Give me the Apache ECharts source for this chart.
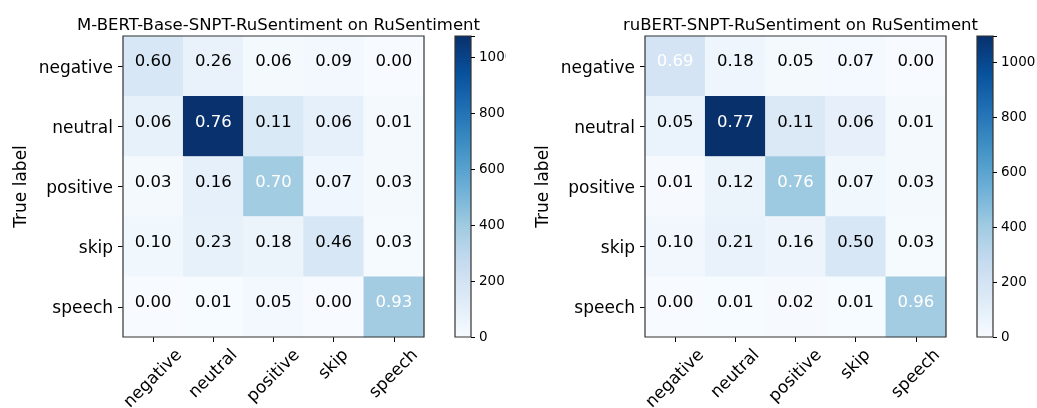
<!DOCTYPE html>
<html>
<head>
<meta charset="utf-8">
<script src="https://cdn.jsdelivr.net/npm/echarts@6/dist/echarts.min.js"></script>
<style>html,body{margin:0;padding:0;background:#fff}#c{width:1037px;height:408px}</style>
</head>
<body>
<div id="c"></div>
<script>
// ---- data ----
const classes = ['negative', 'neutral', 'positive', 'skip', 'speech'];
const titleA = 'M-BERT-Base-SNPT-RuSentiment on RuSentiment';
const titleB = 'ruBERT-SNPT-RuSentiment on RuSentiment';
// normalized values shown as text (rows = true label, cols = predicted)
const normA = [
  [0.60, 0.26, 0.06, 0.09, 0.00],
  [0.06, 0.76, 0.11, 0.06, 0.01],
  [0.03, 0.16, 0.70, 0.07, 0.03],
  [0.10, 0.23, 0.18, 0.46, 0.03],
  [0.00, 0.01, 0.05, 0.00, 0.93]
];
const normB = [
  [0.69, 0.18, 0.05, 0.07, 0.00],
  [0.05, 0.77, 0.11, 0.06, 0.01],
  [0.01, 0.12, 0.76, 0.07, 0.03],
  [0.10, 0.21, 0.16, 0.50, 0.03],
  [0.00, 0.01, 0.02, 0.01, 0.96]
];
// estimated raw counts (drive the colour)
const countsA = [
  [172, 74, 17, 26, 0],
  [84, 1070, 155, 90, 14],
  [17, 89, 390, 39, 17],
  [37, 84, 66, 168, 11],
  [0, 4, 21, 0, 385]
];
const countsB = [
  [195, 51, 14, 20, 0],
  [71, 1095, 156, 90, 14],
  [5, 65, 410, 38, 16],
  [35, 74, 56, 175, 10],
  [0, 4, 8, 4, 395]
];
const maxA = 1075;
const maxB = 1095;
const cbTicks = [0, 200, 400, 600, 800, 1000];

// ---- styling helpers ----
const FONT = 'DejaVu Sans';
const blues = ['#f7fbff', '#deebf7', '#c6dbef', '#9ecae1', '#6baed6', '#4292c6', '#2171b5', '#08519c', '#08306b'];
function grad() {
  return {
    type: 'linear', x: 0, y: 1, x2: 0, y2: 0,
    colorStops: blues.map((c, i) => ({ offset: i / (blues.length - 1), color: c }))
  };
}
function cells(counts, norm) {
  const out = [];
  for (let r = 0; r < counts.length; r++)
    for (let c = 0; c < counts[r].length; c++)
      out.push({
        value: [c, r, counts[r][c], norm[r][c]],
        label: { color: norm[r][c] > 0.65 ? '#fff' : '#000' }
      });
  return out;
}
// rotated x labels: centre of each label under its tick, top edges aligned (matplotlib style)
const mctx = document.createElement('canvas').getContext('2d');
mctx.font = '17px "DejaVu Sans"';
const xRich = {};
classes.forEach((s, i) => {
  const pad = 0.5 * (mctx.measureText(s).width + 14);
  xRich['p' + i] = { fontFamily: FONT, fontSize: 17, color: '#000', padding: [pad, pad, 0, 0] };
});
const xCats = classes.map(s => ({ value: s, textStyle: { align: 'center', verticalAlign: 'middle' } }));

const plots = [
  { left: 123, cbLeft: 455, title: titleA, counts: countsA, norm: normA, max: maxA },
  { left: 645, cbLeft: 977, title: titleB, counts: countsB, norm: normB, max: maxB }
];

const option = {
  animation: false,
  backgroundColor: '#fff',
  textStyle: { fontFamily: FONT },
  title: [], grid: [], xAxis: [], yAxis: [], series: [], visualMap: [],
  graphic: [
    // the left figure in the reference is cropped just after its colour-bar labels
    { type: 'rect', left: 506, top: 40, shape: { width: 12, height: 36 }, style: { fill: '#fff' }, z: 100 }
  ]
};

plots.forEach((p) => {
  const gi = option.grid.length;
  option.title.push({
    text: p.title, left: p.left + 150.5, top: 12, textAlign: 'center',
    textStyle: { fontFamily: FONT, fontSize: 16.5, fontWeight: 'normal', color: '#000' }
  });
  option.grid.push({
    left: p.left, top: 36, width: 301, height: 301, show: true, containLabel: false,
    outerBoundsMode: 'none',
    borderColor: '#333', borderWidth: 1.2, backgroundColor: 'transparent', z: 5
  });
  option.xAxis.push({
    type: 'category', gridIndex: gi, data: xCats, position: 'bottom',
    axisLine: { show: false }, splitLine: { show: false },
    axisTick: { show: true, alignWithLabel: true, length: 5, lineStyle: { color: '#000' } },
    axisLabel: {
      interval: 0, rotate: 45, margin: 10.5, align: 'center', verticalAlign: 'middle',
      fontFamily: FONT, fontSize: 17, color: '#000', hideOverlap: false,
      formatter: (v, i) => '{p' + i + '|' + v + '}',
      rich: xRich
    }
  });
  option.yAxis.push({
    type: 'category', gridIndex: gi, data: classes, inverse: true,
    name: 'True label', nameLocation: 'middle', nameGap: 92.5, nameRotate: 90,
    nameTextStyle: { fontFamily: FONT, fontSize: 17, color: '#000' },
    axisLine: { show: false }, splitLine: { show: false },
    axisTick: { show: true, alignWithLabel: true, length: 5, lineStyle: { color: '#000' } },
    axisLabel: {
      interval: 0, margin: 10, fontFamily: FONT, fontSize: 17, color: '#000',
      formatter: (v) => '{a|' + v + '}',
      rich: { a: { fontFamily: FONT, fontSize: 17, color: '#000', padding: [4, 0, 0, 0] } }
    }
  });
  const si = option.series.length;
  option.series.push({
    type: 'heatmap', xAxisIndex: gi, yAxisIndex: gi,
    data: cells(p.counts, p.norm),
    encode: { x: 0, y: 1, value: 2 },
    itemStyle: { borderWidth: 0 },
    emphasis: { disabled: true },
    label: {
      show: true, offset: [0, -4], fontFamily: FONT, fontSize: 16.5,
      formatter: (d) => d.value[3].toFixed(2)
    }
  });
  option.visualMap.push({
    show: false, type: 'continuous', min: 0, max: p.max, dimension: 2,
    seriesIndex: si, inRange: { color: blues }
  });

  // colour bar grid
  const cg = option.grid.length;
  option.grid.push({
    left: p.cbLeft, top: 36, width: 16, height: 301, show: true, containLabel: false,
    outerBoundsMode: 'none',
    borderColor: '#333', borderWidth: 1.2, backgroundColor: grad()
  });
  option.xAxis.push({ type: 'category', gridIndex: cg, data: [''], show: false });
  option.yAxis.push({
    type: 'value', gridIndex: cg, min: 0, max: p.max, position: 'right',
    interval: 200, splitLine: { show: false }, axisLine: { show: false },
    axisTick: { show: true, length: 4, lineStyle: { color: '#000' } },
    axisLabel: {
      margin: 8, fontFamily: FONT, fontSize: 13.5, color: '#000',
      formatter: (v) => cbTicks.indexOf(v) >= 0 ? String(v) : ''
    }
  });
});

const chart = echarts.init(document.getElementById('c'), null, { renderer: 'canvas' });
chart.setOption(option);
</script>
</body>
</html>
